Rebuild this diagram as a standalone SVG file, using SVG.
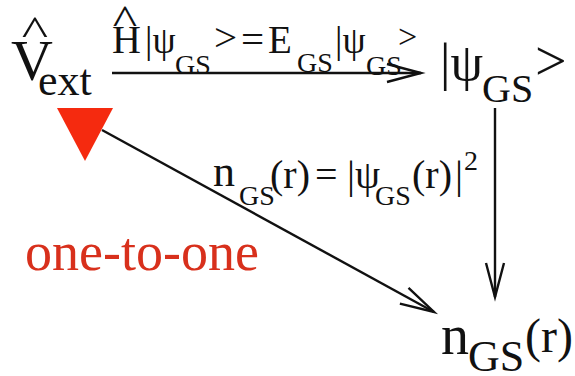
<svg xmlns="http://www.w3.org/2000/svg" width="575" height="376" viewBox="0 0 575 376">
<style>
text{fill:#111}
.c{stroke:#111;stroke-width:2.4;fill:none}
.red{fill:#d8301c}
</style>
<defs>
<marker id="ah" markerUnits="userSpaceOnUse" markerWidth="40" markerHeight="24" refX="0" refY="0" viewBox="-36 -12 40 24" orient="auto" overflow="visible">
<path d="M-34,-9 L0,0 L-34,9" fill="none" stroke="#111" stroke-width="2.4"/>
</marker>
</defs>
<rect width="575" height="376" fill="#fff"/>
<g font-family="Liberation Serif, DejaVu Serif, Times New Roman, serif">
<g id="connectors">
<line class="c" x1="112" y1="73" x2="421" y2="73" marker-end="url(#ah)"/>
<line class="c" x1="495" y1="108" x2="495" y2="297" marker-end="url(#ah)"/>
<line class="c" x1="102" y1="130" x2="434" y2="312" marker-end="url(#ah)"/>
<g id="label-top">
<text transform="translate(125,34) scale(1.3,1.08)" font-size="40" text-anchor="middle">^</text>
<text y="53" font-size="40"><tspan x="112">H</tspan></text>
<text y="53" font-size="37"><tspan x="145">|ψ</tspan><tspan x="268" font-size="39">E</tspan><tspan x="335">|ψ</tspan><tspan x="398" y="48" font-size="34">&gt;</tspan></text>
<text font-size="41"><tspan x="214" y="51">&gt;</tspan><tspan x="241" y="53">=</tspan></text>
<text y="74" font-size="28"><tspan x="175">GS</tspan><tspan x="297" y="72">GS</tspan><tspan x="366" y="75">GS</tspan></text>
</g>
<g id="label-diag">
<text y="188" font-size="40"><tspan x="213" y="186" font-size="44">n</tspan><tspan x="270" y="188">(r)</tspan><tspan x="315">=</tspan><tspan x="347">|ψ</tspan><tspan x="412">(r)</tspan><tspan x="455">|</tspan></text>
<text y="205" font-size="28"><tspan x="239">GS</tspan><tspan x="375">GS</tspan></text>
<text x="464" y="170" font-size="28">2</text>
</g>
</g>
<g id="node-vext">
<text transform="translate(35,45) scale(1.4,1.08)" font-size="40" text-anchor="middle">^</text>
<text x="11" y="80" font-size="58">V</text>
<text x="38" y="95" font-size="44">ext</text>
<polygon points="57,108 113,108 85,161" fill="#f52a0f"/>
</g>
<g id="node-psi">
<text y="80" font-size="52"><tspan x="440">|ψ</tspan></text>
<text x="535" y="80" font-size="56">&gt;</text>
<text x="482" y="102" font-size="40">GS</text>
</g>
<g id="node-ngs">
<text x="441" y="354" font-size="56">n</text>
<text x="468" y="371" font-size="44">GS</text>
<text x="525" y="352" font-size="48">(r)</text>
</g>
<g id="note">
<text class="red" x="25" y="270" font-size="54">one-to-one</text>
</g>
</g>
</svg>
